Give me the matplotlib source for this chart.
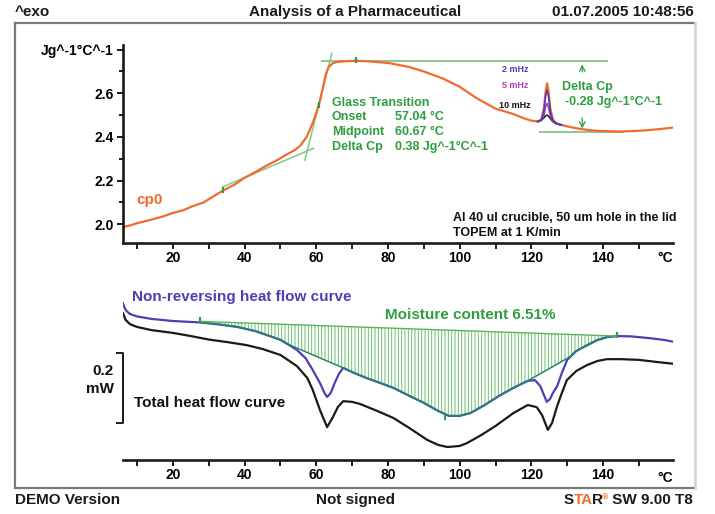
import numpy as np
import matplotlib
matplotlib.use('Agg')
import matplotlib.pyplot as plt
from matplotlib.lines import Line2D

plt.rcParams['font.family'] = ['Liberation Sans', 'DejaVu Sans']
plt.rcParams['hatch.linewidth'] = 0.7
plt.rcParams['hatch.color'] = '#6cbf6c'

W, H = 715, 514

# reversing heat capacity cp0 (J/g/°C) vs temperature (°C)
cp0_temp = [6.0, 8.0, 10.0, 13.6, 17.0, 20.0, 23.0, 25.0, 28.5, 31.0, 34.0, 37.0, 40.0,
            43.0, 46.0, 49.0, 51.7, 54.0, 55.5, 57.3, 59.0, 60.0, 61.0, 61.9, 62.7, 63.3,
            64.0, 64.7, 66.0, 69.0, 71.3, 75.0, 80.5, 86.0, 90.0, 95.0, 100.0, 105.0,
            110.0, 115.0, 118.0, 120.0, 121.8, 122.8, 123.5, 124.0, 124.4, 124.8, 125.3,
            126.0, 127.0, 128.4, 131.0, 134.0, 137.0, 140.0, 145.0, 148.0, 151.6, 155.0,
            158.0, 159.5]
cp0_val = [1.987, 1.995, 2.005, 2.020, 2.035, 2.052, 2.065, 2.080, 2.100, 2.125, 2.155,
           2.180, 2.213, 2.240, 2.268, 2.293, 2.320, 2.340, 2.360, 2.400, 2.465, 2.510,
           2.567, 2.630, 2.690, 2.716, 2.730, 2.739, 2.744, 2.748, 2.749, 2.746, 2.738,
           2.720, 2.700, 2.670, 2.630, 2.575, 2.530, 2.505, 2.485, 2.475, 2.471, 2.480,
           2.530, 2.610, 2.646, 2.610, 2.530, 2.480, 2.463, 2.455, 2.445, 2.436, 2.430,
           2.427, 2.425, 2.427, 2.430, 2.435, 2.440, 2.443]

# cp at the single frequencies around the 124 °C peak
peak_temp = [121.8, 122.8, 123.5, 124.0, 124.4, 124.8, 125.3, 126.0, 127.0, 128.4]
cp_2mhz = [2.471, 2.479, 2.520, 2.590, 2.615, 2.585, 2.515, 2.475, 2.462, 2.455]
cp_5mhz = [2.471, 2.477, 2.500, 2.540, 2.554, 2.535, 2.500, 2.472, 2.461, 2.455]
cp_10mhz = [2.471, 2.476, 2.488, 2.498, 2.500, 2.495, 2.485, 2.470, 2.460, 2.455]

# glass transition / delta cp construction lines
tg_low_temp = [34.0, 59.2]
tg_low_val = [2.172, 2.348]
tg_steep_temp = [56.8, 64.3]
tg_steep_val = [2.294, 2.783]
dcp_top_temp = [61.6, 141.1]
dcp_top_val = [2.748, 2.748]
dcp_bot_temp = [122.4, 145.6]
dcp_bot_val = [2.423, 2.423]

# non-reversing heat flow (mW)
nonrev_temp = [6.0, 6.8, 8.0, 10.0, 14.0, 20.0, 27.5, 33.0, 38.0, 43.0, 47.0, 50.0, 52.0,
               54.6, 57.0, 59.0, 61.0, 62.3, 63.0, 64.0, 65.0, 66.3, 67.5, 70.0, 74.0,
               77.8, 81.5, 85.0, 90.0, 94.0, 97.0, 100.0, 103.0, 107.0, 111.0, 115.0,
               119.0, 121.0, 122.5, 123.5, 124.3, 125.2, 126.0, 127.2, 128.5, 130.0,
               132.5, 135.6, 138.5, 141.2, 144.0, 148.0, 153.0, 157.0, 159.5]
nonrev_mw = [-0.009, -0.029, -0.040, -0.047, -0.054, -0.060, -0.064, -0.070, -0.077,
             -0.089, -0.103, -0.114, -0.126, -0.143, -0.166, -0.200, -0.237, -0.266,
             -0.277, -0.266, -0.240, -0.211, -0.194, -0.206, -0.223, -0.237, -0.251,
             -0.269, -0.294, -0.317, -0.331, -0.331, -0.323, -0.300, -0.274, -0.251,
             -0.231, -0.229, -0.246, -0.271, -0.291, -0.283, -0.266, -0.246, -0.209,
             -0.171, -0.146, -0.129, -0.114, -0.106, -0.103, -0.104, -0.109, -0.114,
             -0.119]

# total heat flow (mW)
total_temp = [6.0, 6.8, 8.0, 10.0, 14.0, 20.0, 25.0, 30.0, 35.0, 40.6, 45.0, 50.0, 54.6,
              57.5, 59.0, 61.0, 63.0, 64.5, 66.0, 67.5, 70.0, 72.2, 77.0, 81.5, 86.0,
              91.0, 94.0, 96.6, 100.0, 102.0, 106.0, 110.0, 115.0, 119.0, 121.5, 123.0,
              124.6, 125.8, 127.1, 128.5, 129.9, 132.5, 135.5, 138.5, 141.1, 145.0,
              150.0, 155.0, 159.5]
total_mw = [-0.037, -0.057, -0.069, -0.077, -0.086, -0.094, -0.103, -0.113, -0.120,
            -0.129, -0.140, -0.157, -0.189, -0.223, -0.257, -0.314, -0.363, -0.337,
            -0.306, -0.289, -0.291, -0.297, -0.317, -0.337, -0.366, -0.400, -0.414,
            -0.420, -0.417, -0.409, -0.386, -0.360, -0.323, -0.300, -0.306, -0.329,
            -0.371, -0.351, -0.306, -0.266, -0.229, -0.203, -0.186, -0.174, -0.169,
            -0.169, -0.171, -0.177, -0.182]

# integration curve and baseline used for the moisture evaluation
integ_temp = [27.5, 33.0, 38.0, 43.0, 47.0, 50.0, 52.0, 67.5, 70.0, 74.0, 77.8, 81.5, 85.0,
              90.0, 94.0, 97.0, 100.0, 103.0, 107.0, 111.0, 115.0, 119.0, 131.0, 132.5,
              135.6, 138.5, 141.2, 143.5]
integ_mw = [-0.064, -0.070, -0.077, -0.089, -0.103, -0.114, -0.126, -0.194, -0.206,
            -0.223, -0.237, -0.251, -0.269, -0.294, -0.317, -0.331, -0.331, -0.323,
            -0.300, -0.274, -0.251, -0.231, -0.161, -0.146, -0.129, -0.114, -0.106,
            -0.103]
base_temp = [27.5, 143.5]
base_mw = [-0.061, -0.103]

x_major = [20, 40, 60, 80, 100, 120, 140]
x_minor = [10, 30, 50, 70, 90, 110, 130, 150]

GREEN = '#2e9e3e'
LGREEN = '#8acb8a'
ORANGE = '#f26a2e'
BLUE = '#4d3fb5'
PURPLE = '#b23cb4'


def fx(x):
    return x / W


def fy(y):
    return 1 - y / H


fig = plt.figure(figsize=(W / 100, H / 100), dpi=100)

# frame, header and footer
fig.add_artist(Line2D([fx(15), fx(695)], [fy(23), fy(23)], color='#7a7a7a', lw=1.6))
fig.add_artist(Line2D([fx(15), fx(15)], [fy(23), fy(488)], color='#7a7a7a', lw=1.6))
fig.add_artist(Line2D([fx(15), fx(695)], [fy(488), fy(488)], color='#7a7a7a', lw=1.6))
fig.add_artist(Line2D([fx(695), fx(695)], [fy(23), fy(488)], color='#d4d4d4', lw=2.0))

hdr = dict(fontsize=11, fontweight='bold', color='#1a1a1a')
fig.text(fx(15), fy(12), '^exo', ha='left', va='center', **hdr)
fig.text(fx(355), fy(12), 'Analysis of a Pharmaceutical', ha='center', va='center', **hdr)
fig.text(fx(694), fy(12), '01.07.2005 10:48:56', ha='right', va='center', **hdr)
fig.text(fx(15), fy(500), 'DEMO Version', ha='left', va='center', **hdr)
fig.text(fx(355), fy(500), 'Not signed', ha='center', va='center', **hdr)

# ---- top panel: cp0 ----
ax1 = fig.add_axes([fx(123), fy(243), fx(673) - fx(123), fy(45.3) - fy(243)])
ax1.set_xlim(6.05, 159.53)
ax1.set_ylim(1.9144, 2.82)

ax1.plot(tg_low_temp, tg_low_val, color=LGREEN, lw=1.2)
ax1.plot(tg_steep_temp, tg_steep_val, color=LGREEN, lw=1.2)
ax1.plot(dcp_top_temp, dcp_top_val, color=LGREEN, lw=1.4)
ax1.plot(dcp_bot_temp, dcp_bot_val, color=LGREEN, lw=1.4)

ax1.plot(cp0_temp, cp0_val, color=ORANGE, lw=1.6)
ax1.plot(peak_temp, cp_10mhz, color='#222222', lw=1.2)
ax1.plot(peak_temp, cp_5mhz, color=PURPLE, lw=1.2)
ax1.plot(peak_temp, cp_2mhz, color=BLUE, lw=1.2)

ax1.plot([34.0, 60.67, 71.0], [2.158, 2.548, 2.752], ls='none', marker='|',
         ms=5, mew=1.6, color=GREEN)

ax1.annotate('', xy=(134.2, 2.745), xytext=(134.2, 2.685),
             arrowprops=dict(arrowstyle='->', color=GREEN, lw=0.9))
ax1.annotate('', xy=(134.2, 2.426), xytext=(134.2, 2.50),
             arrowprops=dict(arrowstyle='->', color=GREEN, lw=0.9))

ann = dict(fontsize=9, fontweight='bold', color=GREEN, va='center', ha='left')
ax1.text(64.3, 2.557, 'Glass Transition', **ann)
ax1.text(64.3, 2.491, 'Onset', **ann)
ax1.text(64.3, 2.421, 'Midpoint', **ann)
ax1.text(64.3, 2.355, 'Delta Cp', **ann)
ax1.text(81.95, 2.491, '57.04 °C', **ann)
ax1.text(81.95, 2.421, '60.67 °C', **ann)
ax1.text(81.95, 2.355, '0.38 Jg^-1°C^-1', **ann)
ax1.text(128.5, 2.630, 'Delta Cp', **ann)
ax1.text(129.4, 2.561, '-0.28 Jg^-1°C^-1', **ann)

ax1.text(115.4, 2.711, '2 mHz', fontsize=6.5, fontweight='bold', color=BLUE,
         ha='center', va='center')
ax1.text(115.4, 2.635, '5 mHz', fontsize=6.5, fontweight='bold', color=PURPLE,
         ha='center', va='center')
ax1.text(115.4, 2.546, '10 mHz', fontsize=6.5, fontweight='bold', color='#111111',
         ha='center', va='center')

ax1.text(9.9, 2.111, 'cp0', fontsize=11, fontweight='bold', color=ORANGE, va='center')
ax1.text(98.1, 2.030, 'Al 40 ul crucible, 50 um hole in the lid', fontsize=9,
         fontweight='bold', color='#111111', va='center', clip_on=False)
ax1.text(98.1, 1.962, 'TOPEM at 1 K/min', fontsize=9, fontweight='bold',
         color='#111111', va='center')

ax1.set_yticks([2.0, 2.2, 2.4, 2.6, 2.8])
ax1.set_yticklabels(['2.0', '2.2', '2.4', '2.6', 'Jg^-1°C^-1'])
ax1.set_yticks([2.1, 2.3, 2.5, 2.7], minor=True)

# ---- bottom panel: heat flow ----
ax2 = fig.add_axes([fx(123), fy(460), fx(673) - fx(123), fy(285) - fy(460)])
ax2.set_xlim(6.05, 159.53)
ax2.set_ylim(-0.4571, 0.0429)

base_on_integ = np.interp(integ_temp, base_temp, base_mw)
ax2.fill_between(integ_temp, base_on_integ, integ_mw, facecolor='none',
                 edgecolor='#6cbf6c', hatch='|||||', lw=0)
ax2.plot(total_temp, total_mw, color='#1a1a1a', lw=1.6)
ax2.plot(nonrev_temp, nonrev_mw, color=BLUE, lw=1.6)
ax2.plot(integ_temp, integ_mw, color='#1f8a6a', lw=1.1)
ax2.plot(base_temp, base_mw, color='#5bb45b', lw=1.0)
ax2.plot([27.5, 96.0, 143.8], [-0.058, -0.333, -0.100], ls='none', marker='|',
         ms=5, mew=1.6, color=GREEN)

ax2.text(8.6, 0.008, 'Non-reversing heat flow curve', fontsize=11, fontweight='bold',
         color=BLUE, va='center')
ax2.text(79.2, -0.043, 'Moisture content 6.51%', fontsize=11, fontweight='bold',
         color=GREEN, va='center')
ax2.text(9.0, -0.293, 'Total heat flow curve', fontsize=11, fontweight='bold',
         color='#111111', va='center')
ax2.text(3.4, -0.202, '0.2', fontsize=11, fontweight='bold', color='#111111',
         ha='right', va='center', clip_on=False)
ax2.text(3.4, -0.255, 'mW', fontsize=11, fontweight='bold', color='#111111',
         ha='right', va='center', clip_on=False)
ax2.plot([4.3, 6.1, 6.1, 4.3], [-0.150, -0.150, -0.350, -0.350], color='#1a1a1a',
         lw=1.4, clip_on=False)
ax2.set_yticks([])

for ax in (ax1, ax2):
    ax.set_xticks(x_major)
    ax.set_xticks(x_minor, minor=True)
    ax.spines['top'].set_visible(False)
    ax.spines['right'].set_visible(False)
    for s in ('left', 'bottom'):
        ax.spines[s].set_linewidth(1.9)
        ax.spines[s].set_color('#1a1a1a')
    ax.tick_params(axis='x', which='both', direction='out', length=4, width=1.4,
                   pad=2, labelsize=10, color='#1a1a1a')
    ax.tick_params(axis='y', which='major', direction='out', length=4.5, width=1.4,
                   pad=2, labelsize=10, color='#1a1a1a')
    ax.tick_params(axis='y', which='minor', direction='out', length=3, width=1.4,
                   color='#1a1a1a')
    for lab in ax.get_xticklabels() + ax.get_yticklabels():
        lab.set_fontweight('bold')
    ax.patch.set_alpha(0)
ax2.spines['left'].set_visible(False)

fig.text(fx(665), fy(258), '°C', fontsize=10, fontweight='bold', ha='center', va='center')
fig.text(fx(665), fy(478), '°C', fontsize=10, fontweight='bold', ha='center', va='center')

# STAR logo in the footer, built piece by piece
star_s = fig.text(fx(564), fy(500), 'S', ha='left', va='center', **hdr)
off = dict(textcoords='offset points', xytext=(-0.5, 0), ha='left', va='bottom',
           annotation_clip=False)
star_ta = ax2.annotate('TA', xy=(1, 0), xycoords=star_s, fontsize=11,
                       fontweight='bold', color=ORANGE, **off)
star_r = ax2.annotate('R', xy=(1, 0), xycoords=star_ta, **hdr, **off)
star_reg = ax2.annotate('®', xy=(1, 0.4), xycoords=star_r, fontsize=6,
                        fontweight='bold', color=ORANGE, **off)
ax2.annotate(' SW 9.00 T8', xy=(1, 0), xycoords=(star_reg, star_r), **hdr, **off)

fig.savefig('out.png', dpi=100)
